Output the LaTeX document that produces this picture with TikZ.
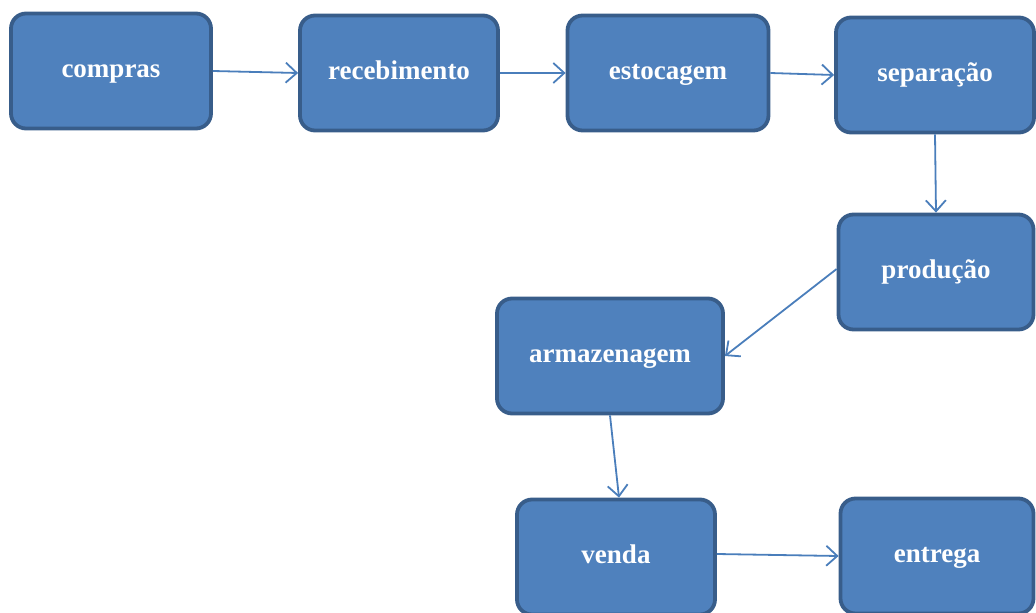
\documentclass[tikz,border=0pt]{standalone}
\usepackage{fontspec}
\setmainfont{Liberation Serif}
\usetikzlibrary{arrows.meta,positioning}
\definecolor{boxblue}{RGB}{79,129,189}
\definecolor{boxedge}{RGB}{56,93,138}
\definecolor{flowblue}{RGB}{74,126,187}

\begin{document}
\begin{tikzpicture}[x=1pt,y=-1pt,
    stage/.style={draw=boxedge, line width=3.8pt, fill=boxblue, rounded corners=15pt,
      text=white, font=\fontsize{27}{31}\selectfont\bfseries,
      text height=17pt, text depth=5pt,
      minimum width=#1, minimum height=115pt, inner sep=0pt},
    stage/.default=198pt,
    flow/.style={draw=flowblue, line width=1.8pt, -{Straight Barb[length=11pt,width=20pt]}}]
    \useasboundingbox (0,0) rectangle (1036,613);
    % top row
    \node[stage=200pt] (compras) at (111,71) {compras};
    \node[stage] (receb) at (399,73) {recebimento};
    \node[stage=201pt] (estoc) at (668,73) {estocagem};
    \node[stage] (separ) at (935,75) {separação};
    % right column and middle
    \node[stage=195pt] (prod) at (936,272) {produção};
    \node[stage=226pt] (armaz) at (610,356) {armazenagem};
    % bottom row
    \node[stage] (venda) at (616,557) {venda};
    \node[stage=193pt] (entrega) at (937,556) {entrega};
    % connectors
    \draw[flow] (compras.east) -- (receb.west);
    \draw[flow] (receb.east) -- (estoc.west);
    \draw[flow] (estoc.east) -- (separ.west);
    \draw[flow] (separ.south) -- (prod.north);
    \draw[flow] ([yshift=3pt]prod.west) -- (armaz.east);
    \draw[flow] (armaz.south) -- ([xshift=3pt]venda.north);
    \draw[flow] ([yshift=3pt]venda.east) -- (entrega.west);
  \end{tikzpicture}
\end{document}
